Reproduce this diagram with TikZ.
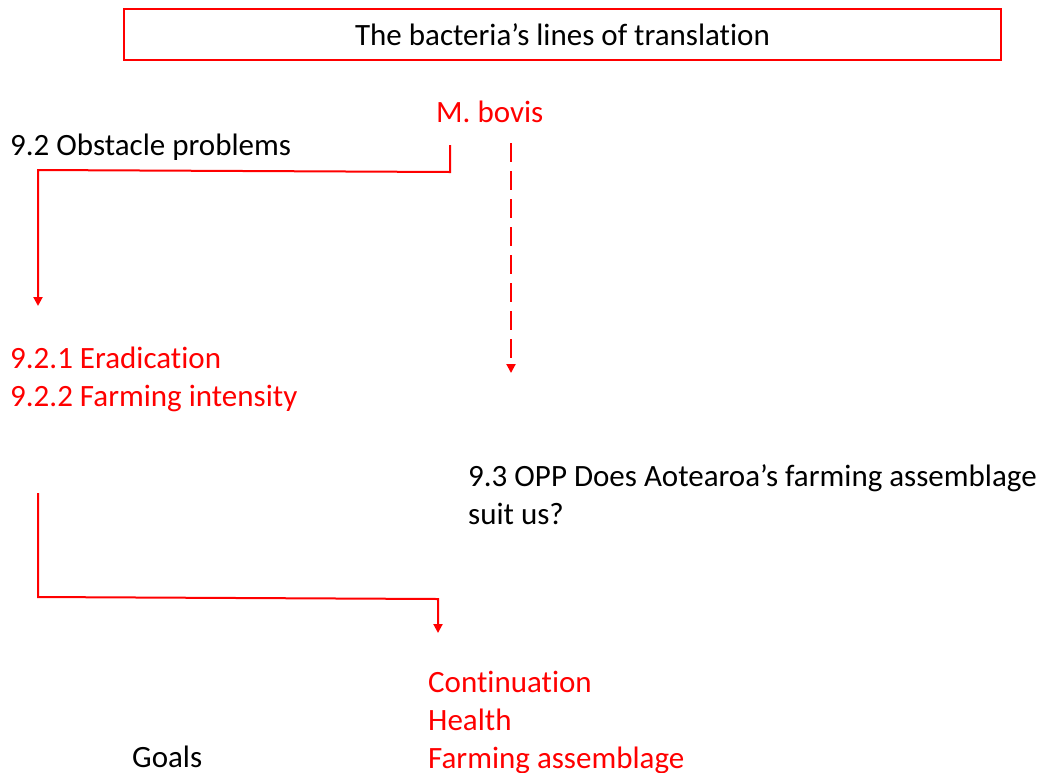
\documentclass[tikz,border=0pt]{standalone}
\usepackage{fontspec}
\setmainfont{Carlito}[Ligatures={NoCommon}]
\usetikzlibrary{arrows.meta}
\definecolor{linkred}{RGB}{255,0,0}
\begin{document}
\begin{tikzpicture}[x=1pt,y=-1pt,
  txt/.style={anchor=base west,inner sep=0pt,font=\fontsize{31pt}{38pt}\selectfont,align=left},
  redtxt/.style={txt,text=linkred},
  link/.style={draw=linkred,line width=2pt,-{Triangle[width=9pt,length=9pt]}},
  dashlink/.style={link,dash pattern=on 19pt off 9pt}]
\useasboundingbox (0,0) rectangle (1041,772);
% heading box
\node[draw=linkred,line width=2pt,minimum width=877pt,minimum height=51pt,inner sep=0pt,
      font=\fontsize{31pt}{38pt}\selectfont] (title) at (562.5,34.5) {The bacteria’s lines of translation};
% text blocks (base anchor sits on the last line)
\node[redtxt] (mbovis) at (436,122) {M. bovis};
\node[txt] (obst) at (10,155) {9.2 Obstacle problems};
\node[redtxt] (erad) at (10,406) {9.2.1 Eradication\\9.2.2 Farming intensity};
\node[txt] (opp) at (468,524) {9.3 OPP Does Aotearoa’s farming assemblage\\suit us?};
\node[redtxt] (goalsred) at (428,768) {Continuation\\Health\\Farming assemblage};
\node[txt] (goals) at (132,767) {Goals};
% connector ends
\coordinate (s1) at (450,145);
\coordinate (t1) at (38,306);
\coordinate (s2) at (511,143);
\coordinate (t2) at (511,373);
\coordinate (s3) at (38,493);
\coordinate (t3) at (438,633);
% connectors
\draw[link] (s1) -- (450,172) -- (38,170) -- (t1);
\draw[dashlink] (s2) -- (t2);
\draw[link] (s3) -- (38,597) -- (438,599) -- (t3);
\end{tikzpicture}
\end{document}
